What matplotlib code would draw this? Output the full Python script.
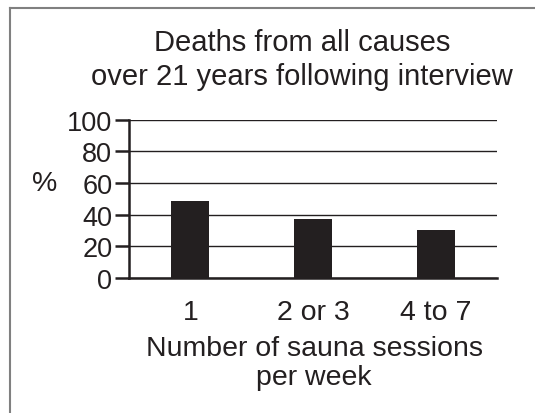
import matplotlib.pyplot as plt
from matplotlib.lines import Line2D

plt.rcParams['font.family'] = ['Liberation Sans', 'DejaVu Sans']

categories = ["1", "2 or 3", "4 to 7"]
deaths_pct = [48.5, 37.2, 30.2]
y_ticks = [0, 20, 40, 60, 80, 100]

W, H = 535, 414
INK = "#231f20"
fig = plt.figure(figsize=(W / 100, H / 100), dpi=100)
ax = fig.add_axes([129 / W, 1 - 279 / H, 368 / W, (279 - 120.7) / H])

x = range(len(categories))
ax.bar(x, deaths_pct, width=0.31, color=INK, zorder=3)
ax.set_xlim(-0.5, 2.5)
ax.set_ylim(0, 100)
ax.set_yticks(y_ticks)
ax.set_xticks(list(x))
ax.set_xticklabels(categories)
ax.yaxis.grid(True, color=INK, linewidth=1.0, zorder=0)
for side in ["top", "right"]:
    ax.spines[side].set_visible(False)
for side in ["left", "bottom"]:
    ax.spines[side].set_linewidth(1.8)
    ax.spines[side].set_color(INK)
ax.tick_params(axis="y", length=10, width=1.8, pad=2, labelsize=19.5, colors=INK)
ax.tick_params(axis="x", length=0, pad=15, labelsize=20.5, colors=INK)

txt = dict(ha="center", va="center", fontsize=20.5, color=INK)
fig.text(45 / W, 1 - 184 / H, "%", **txt)
fig.text(302 / W, 1 - 43 / H, "Deaths from all causes", **dict(txt, fontsize=21))
fig.text(302 / W, 1 - 77 / H, "over 21 years following interview", **dict(txt, fontsize=21))
fig.text(314 / W, 1 - 349 / H, "Number of sauna sessions", **txt)
fig.text(314 / W, 1 - 378 / H, "per week", **txt)

# grey frame, top and left only
fig.add_artist(Line2D([10 / W, 1], [1 - 9 / H, 1 - 9 / H], color="#808080", linewidth=1.5,
                      transform=fig.transFigure))
fig.add_artist(Line2D([10 / W, 10 / W], [0, 1 - 9 / H], color="#808080", linewidth=1.5,
                      transform=fig.transFigure))

fig.savefig("out.png", dpi=100)
